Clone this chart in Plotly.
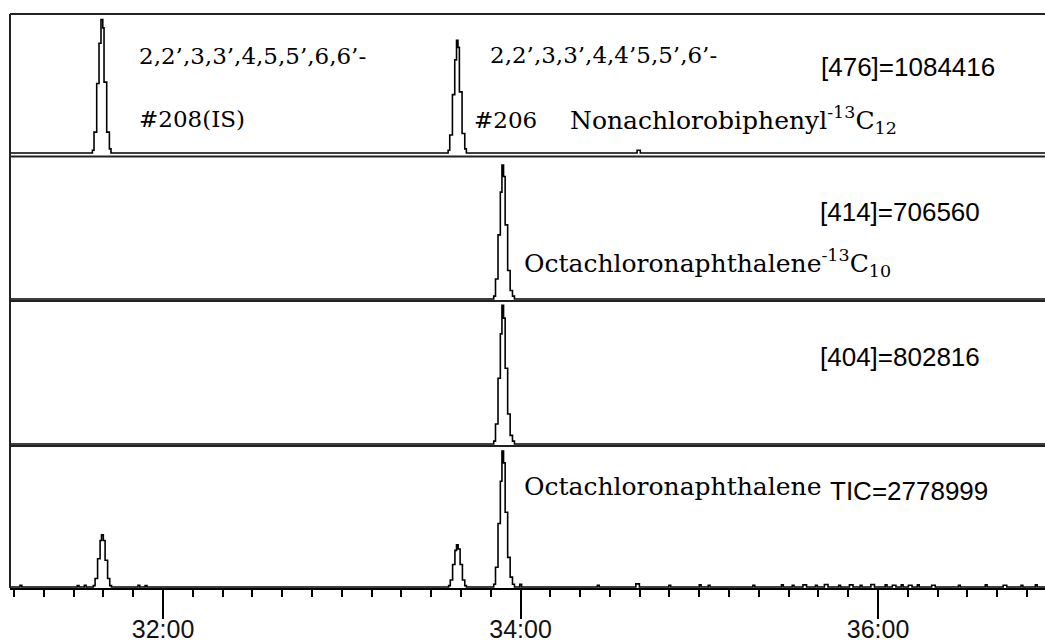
import plotly.graph_objects as go

# ---------------- data (retention time in minutes, intensity in % of panel) ----------------
t_476 = [31.144, 31.605, 31.614, 31.629, 31.642, 31.653, 31.663, 31.670, 31.685, 31.700, 31.709,
         33.595, 33.604, 33.619, 33.632, 33.642, 33.650, 33.658, 33.673, 33.688, 33.697,
         34.652, 34.670, 36.934]
y_476 = [0, 2, 15, 50, 79, 96, 90, 51, 15, 3, 0,
         2, 13, 42, 67, 81, 76, 44, 14, 3, 0,
         2, 0, 0]

t_414 = [31.144, 33.850, 33.860, 33.874, 33.887, 33.896, 33.905, 33.914, 33.928, 33.942, 33.955, 33.966, 36.934]
y_414 = [0, 2, 14, 45, 75, 94, 86, 52, 20, 6, 2, 0, 0]

t_404 = [31.144, 33.850, 33.860, 33.874, 33.887, 33.896, 33.905, 33.914, 33.928, 33.942, 33.955, 33.966, 36.934]
y_404 = [0, 2, 14, 46, 77, 97, 88, 53, 21, 6, 2, 0, 0]

t_tic = [31.144, 31.200, 31.210, 31.520, 31.530, 31.560, 31.570,
         31.610, 31.620, 31.634, 31.648, 31.656, 31.666, 31.676, 31.690, 31.702, 31.712,
         31.860, 31.870, 31.900, 31.910,
         33.598, 33.607, 33.620, 33.633, 33.642, 33.651, 33.662, 33.675, 33.688, 33.697,
         33.850, 33.860, 33.874, 33.887, 33.896, 33.905, 33.914, 33.928, 33.942, 33.955, 33.966,
         33.996, 34.006, 34.430, 34.440, 34.645, 34.665, 34.830, 34.840, 35.000, 35.010,
         35.050, 35.060, 35.300, 35.310, 35.460, 35.470, 35.520, 35.530, 35.580, 35.600,
         35.650, 35.660, 35.700, 35.720, 35.780, 35.790, 35.840, 35.860, 35.900, 35.910,
         35.960, 35.980, 36.040, 36.050, 36.080, 36.100, 36.130, 36.140, 36.170, 36.190,
         36.220, 36.230, 36.300, 36.320, 36.450, 36.460, 36.600, 36.610, 36.700, 36.720,
         36.800, 36.810, 36.880, 36.890, 36.934]
y_tic = [0, 1.2, 0, 1.0, 0, 1.2, 0,
         1, 6, 20, 33, 37, 33, 19, 6, 1, 0,
         1.2, 0, 1.0, 0,
         1, 5, 16, 26, 30, 27, 16, 5, 1, 0,
         2, 14, 45, 75, 96.5, 88, 53, 21, 7, 2, 0,
         2, 0, 1.2, 0, 2.2, 0, 1.2, 0, 1.5, 0,
         1.2, 0, 1.2, 0, 1.5, 0, 1.2, 0, 1.5, 0,
         1.2, 0, 1.8, 0, 1.2, 0, 1.5, 0, 1.2, 0,
         1.8, 0, 1.5, 0, 1.2, 0, 1.5, 0, 1.2, 0,
         1.5, 0, 1.2, 0, 1.2, 0, 1.5, 0, 1.2, 0,
         1.2, 0, 1.5, 0, 0]

tick_vals = [32, 34, 36]
tick_labels = ["32:00", "34:00", "36:00"]

# ---------------- figure ----------------
W, H = 1045, 644
ML, MR, MT, MB = 10, 0, 14, 56
PW, PH = W - ML - MR, H - MT - MB


def px_x(px):
    return (px - ML) / PW


def px_y(py):
    return (H - MB - py) / PH


line_style = dict(color="black", width=1.6, shape="hv")
fig = go.Figure()
for tt, yy, ax in [(t_476, y_476, "y4"), (t_414, y_414, "y3"), (t_404, y_404, "y2"), (t_tic, y_tic, "y")]:
    fig.add_trace(go.Scatter(x=tt, y=yy, mode="lines", line=line_style, xaxis="x", yaxis=ax,
                             showlegend=False, hoverinfo="skip"))

d1, d2, d3 = px_y(446), px_y(301), px_y(156.5)

yaxis_common = dict(showgrid=False, zeroline=False, showticklabels=False, ticks="", showline=False,
                    fixedrange=True, automargin=False)

label_font = "Liberation Sans Narrow, Liberation Sans, Arial, sans-serif"

fig.update_layout(
    width=W, height=H,
    margin=dict(l=ML, r=MR, t=MT, b=MB, pad=0, autoexpand=False),
    paper_bgcolor="white", plot_bgcolor="white",
    xaxis=dict(range=[31.144, 36.934], domain=[0, 1], anchor="y", automargin=False,
               showline=True, linecolor="black", linewidth=2,
               showgrid=False, zeroline=False,
               tickmode="array", tickvals=tick_vals, ticktext=tick_labels,
               ticks="outside", ticklen=29, tickwidth=1.5, tickcolor="black",
               ticklabelstandoff=-11,
               tickfont=dict(family=label_font, size=25, color="#111"),
               minor=dict(ticks="outside", ticklen=7, tickwidth=1.5, tickcolor="black",
                          tick0=32, dtick=1 / 6, showgrid=False)),
    yaxis=dict(domain=[0, d1], range=[-0.7, 100], anchor="x", **yaxis_common),
    yaxis2=dict(domain=[d1, d2], range=[-1.4, 100], anchor="x", **yaxis_common),
    yaxis3=dict(domain=[d2, d3], range=[-1.4, 100], anchor="x", **yaxis_common),
    yaxis4=dict(domain=[d3, 1], range=[-2.5, 100], anchor="x", **yaxis_common),
)

# frame lines
frame = dict(color="#222", width=2)
for yy in [1, d3, d2, d1]:
    fig.add_shape(type="line", xref="paper", yref="paper", x0=0, x1=1, y0=yy, y1=yy, line=frame)
fig.add_shape(type="line", xref="paper", yref="paper", x0=0, x1=0, y0=0, y1=1, line=frame)

serif = "DejaVu Serif, Liberation Serif, serif"
annos = [
    ("2,2’,3,3’,4,5,5’,6,6’-", 137, 56, serif, 23),
    ("#208(IS)", 137, 119, serif, 23),
    ("2,2’,3,3’,4,4’5,5’,6’-", 488, 55, serif, 23),
    ("#206", 472, 120, serif, 23),
    ("Nonachlorobiphenyl<sup>-13</sup>C<sub>12</sub>", 568, 120, serif, 25),
    ("[476]=1084416", 819, 67, label_font, 26),
    ("[414]=706560", 818, 212, label_font, 26),
    ("Octachloronaphthalene<sup>-13</sup>C<sub>10</sub>", 522, 263, serif, 25),
    ("[404]=802816", 818, 357, label_font, 26),
    ("Octachloronaphthalene", 522, 486, serif, 25),
    ("TIC=2778999", 828, 491, label_font, 26),
]
for text, x, y, fam, size in annos:
    fig.add_annotation(text=text, xref="paper", yref="paper", x=px_x(x), y=px_y(y),
                       xanchor="left", yanchor="middle", showarrow=False,
                       font=dict(family=fam, size=size, color="black"))

fig.write_html("out.html")
